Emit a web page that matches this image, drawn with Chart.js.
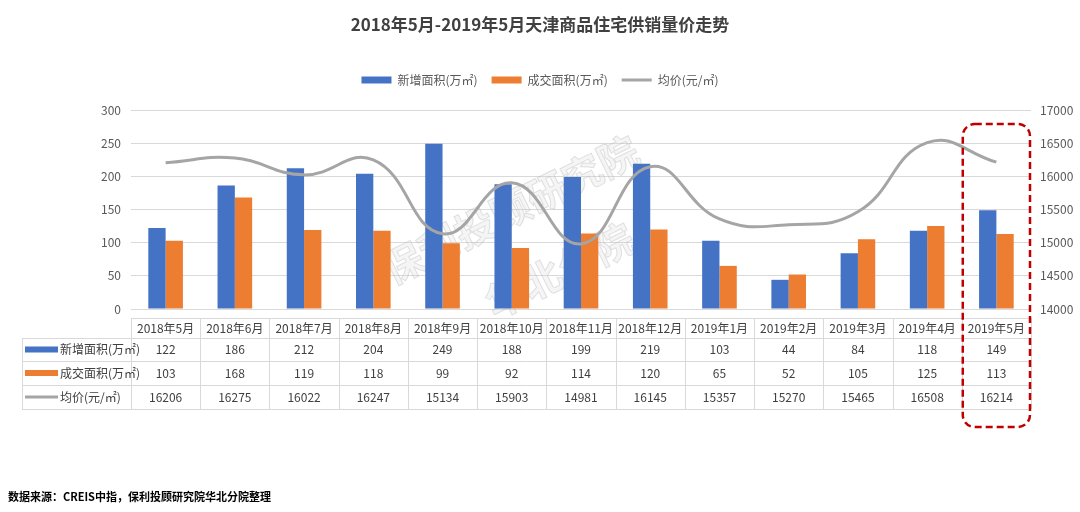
<!DOCTYPE html>
<html>
<head>
<meta charset="utf-8">
<script src="https://cdn.jsdelivr.net/npm/chart.js@4.4.1/dist/chart.umd.min.js"></script>
<style>
  html, body { margin: 0; padding: 0; background: #fff; }
  #wrap { width: 1080px; height: 512px; }
</style>
</head>
<body>
<div id="wrap"><canvas id="chart" width="1080" height="512"></canvas></div>
<script>
const categories = ['2018年5月','2018年6月','2018年7月','2018年8月','2018年9月','2018年10月','2018年11月','2018年12月','2019年1月','2019年2月','2019年3月','2019年4月','2019年5月'];
const newSupply = [122,186,212,204,249,188,199,219,103,44,84,118,149];
const soldArea = [103,168,119,118,99,92,114,120,65,52,105,125,113];
const avgPrice = [16206,16275,16022,16247,15134,15903,14981,16145,15357,15270,15465,16508,16214];
const seriesNames = ['新增面积(万㎡)', '成交面积(万㎡)', '均价(元/㎡)'];

const FONT = '"Noto Sans CJK SC", "Microsoft YaHei", sans-serif';
const BLUE = '#4472C4', ORANGE = '#ED7D31', GREY = '#A5A5A5';
const GRID = '#D9D9D9';

Chart.defaults.font.family = FONT;
Chart.defaults.color = '#595959';

// extra gap under the legend
const legendGap = {
  id: 'legendGap',
  beforeInit(chart) {
    const fit = chart.legend.fit;
    chart.legend.fit = function () {
      fit.call(this);
      this.height += 14;
    };
  }
};

// title, table under the plot, watermark, red box, source note
const extras = {
  id: 'extras',
  beforeDatasetsDraw(chart) {
    const ctx = chart.ctx;
    const marks = [['保利投顾研究院', 385, 272], ['华北分院', 488, 306]];
    marks.forEach(([txt, px, py]) => {
      ctx.save();
      ctx.font = 'bold 40px ' + FONT;
      ctx.translate(px, py);
      ctx.rotate(-0.46);
      ctx.fillStyle = 'rgba(215,215,215,0.25)';
      ctx.fillText(txt, 0, 0);
      ctx.strokeStyle = 'rgba(175,175,175,0.35)';
      ctx.lineWidth = 1;
      ctx.strokeText(txt, 0, 0);
      ctx.restore();
    });
  },
  afterDraw(chart) {
    const ctx = chart.ctx;
    const x = chart.scales.x;
    const half = (x.getPixelForValue(1) - x.getPixelForValue(0)) / 2;
    const left = x.getPixelForValue(0) - half;
    const right = x.getPixelForValue(categories.length - 1) + half;
    const rows = [318, 338, 361, 385, 409];

    ctx.save();
    // title
    ctx.fillStyle = '#404040';
    ctx.font = 'bold 17px ' + FONT;
    ctx.textAlign = 'center';
    ctx.textBaseline = 'middle';
    ctx.fillText('2018年5月-2019年5月天津商品住宅供销量价走势', 540, 25);

    // table lines
    ctx.strokeStyle = GRID;
    ctx.lineWidth = 1;
    ctx.beginPath();
    ctx.moveTo(left, rows[0] + 0.5); ctx.lineTo(right, rows[0] + 0.5);
    for (let r = 1; r < rows.length; r++) {
      ctx.moveTo(22, rows[r] + 0.5); ctx.lineTo(right, rows[r] + 0.5);
    }
    ctx.moveTo(22.5, rows[1]); ctx.lineTo(22.5, rows[4]);
    for (let i = 0; i <= categories.length; i++) {
      const px = Math.round(left + i * 2 * half) + 0.5;
      ctx.moveTo(px, rows[0]); ctx.lineTo(px, rows[4]);
    }
    ctx.stroke();

    // table text
    ctx.fillStyle = '#404040';
    ctx.font = '12px ' + FONT;
    const values = [newSupply, soldArea, avgPrice];
    categories.forEach((c, i) => {
      const cx = x.getPixelForValue(i);
      ctx.fillText(c, cx, (rows[0] + rows[1]) / 2);
      values.forEach((v, r) => {
        ctx.fillText(String(v[i]), cx, (rows[r + 1] + rows[r + 2]) / 2);
      });
    });

    // row headers with legend keys
    ctx.textAlign = 'left';
    const keyColors = [BLUE, ORANGE, GREY];
    seriesNames.forEach((name, r) => {
      const cy = (rows[r + 1] + rows[r + 2]) / 2;
      ctx.fillStyle = keyColors[r];
      if (r < 2) {
        ctx.fillRect(25, cy - 3, 33, 6);
      } else {
        ctx.fillRect(25, cy - 1.5, 33, 3);
      }
      ctx.fillStyle = '#404040';
      ctx.fillText(name, 60, cy);
    });

    // red dashed box around the latest month
    const last = x.getPixelForValue(categories.length - 1);
    ctx.strokeStyle = '#C00000';
    ctx.lineWidth = 2.5;
    ctx.setLineDash([7, 4]);
    ctx.beginPath();
    ctx.roundRect(last - half + 1, 124, 2 * half - 2, 303, 12);
    ctx.stroke();
    ctx.setLineDash([]);

    // source
    ctx.fillStyle = '#000';
    ctx.font = 'bold 11px ' + FONT;
    ctx.textAlign = 'left';
    ctx.fillText('数据来源：CREIS中指，保利投顾研究院华北分院整理', 8, 497);
    ctx.restore();
  }
};

new Chart(document.getElementById('chart'), {
  type: 'bar',
  data: {
    labels: categories,
    datasets: [
      {
        label: seriesNames[0],
        data: newSupply,
        backgroundColor: BLUE,
        pointStyle: 'rect',
        yAxisID: 'y',
        order: 1
      },
      {
        label: seriesNames[1],
        data: soldArea,
        backgroundColor: ORANGE,
        pointStyle: 'rect',
        yAxisID: 'y',
        order: 1
      },
      {
        type: 'line',
        label: seriesNames[2],
        data: avgPrice,
        borderColor: GREY,
        backgroundColor: GREY,
        borderWidth: 3,
        pointRadius: 0,
        pointStyle: 'line',
        tension: 0.45,
        yAxisID: 'y1',
        order: 0
      }
    ]
  },
  options: {
    responsive: false,
    animation: false,
    layout: { padding: { top: 60, bottom: 203, left: 0, right: 0 } },
    datasets: {
      bar: { barPercentage: 1, categoryPercentage: 0.5 }
    },
    plugins: {
      title: { display: false },
      tooltip: { enabled: false },
      legend: {
        position: 'top',
        labels: {
          usePointStyle: true,
          pointStyleWidth: 30,
          boxHeight: 7,
          padding: 14,
          color: '#595959',
          font: { size: 12 },
          sort: (a, b) => a.datasetIndex - b.datasetIndex
        }
      }
    },
    scales: {
      x: { display: false },
      y: {
        position: 'left',
        min: 0,
        max: 300,
        ticks: { stepSize: 50, padding: 10, font: { size: 12 }, color: '#595959' },
        grid: { color: GRID, drawTicks: false },
        border: { display: false },
        afterFit(scale) { scale.width = 131; }
      },
      y1: {
        position: 'right',
        min: 14000,
        max: 17000,
        ticks: {
          stepSize: 500, padding: 9, font: { size: 12 }, color: '#595959',
          callback: (v) => String(v)
        },
        grid: { display: false, drawTicks: false },
        border: { display: false },
        afterFit(scale) { scale.width = 49; }
      }
    }
  },
  plugins: [legendGap, extras]
});
</script>
</body>
</html>
